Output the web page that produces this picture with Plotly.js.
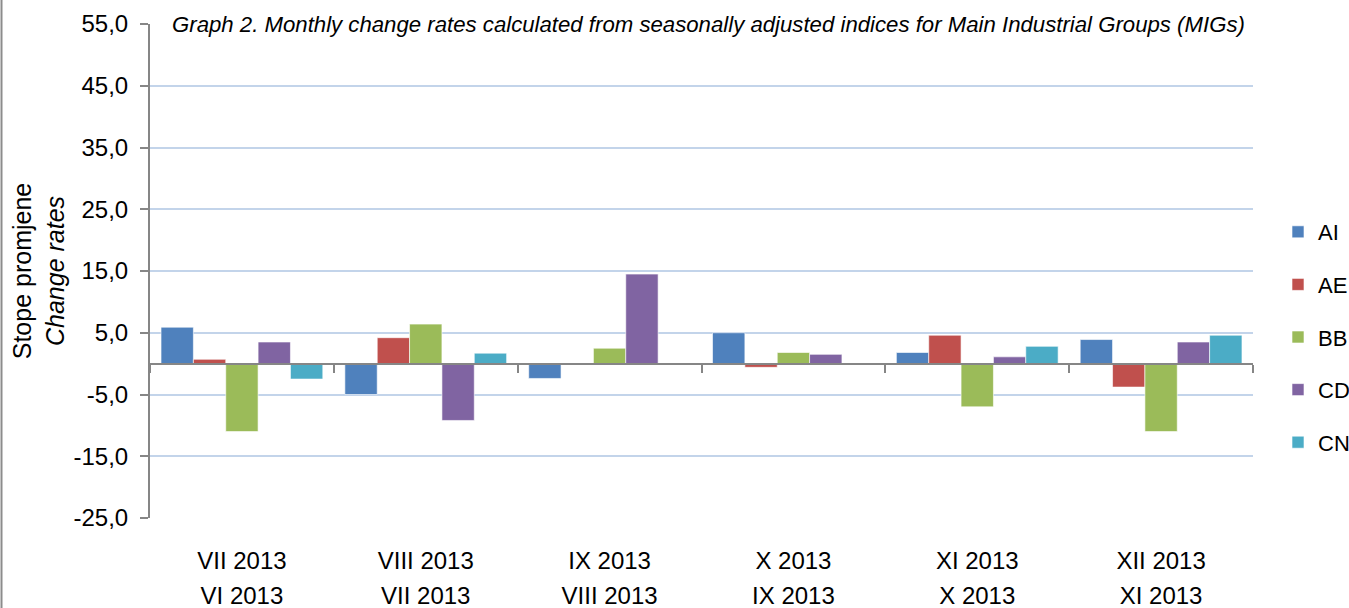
<!DOCTYPE html>
<html>
<head>
<meta charset="utf-8">
<script src="https://cdn.plot.ly/plotly-3.0.1.min.js"></script>
<style>html,body{margin:0;padding:0;background:#fff;}#chart{width:1349px;height:608px;}</style>
</head>
<body>
<div id="chart"></div>
<script>
const periodCurrent = ['VII 2013', 'VIII 2013', 'IX 2013', 'X 2013', 'XI 2013', 'XII 2013'];
const periodPrevious = ['VI 2013', 'VII 2013', 'VIII 2013', 'IX 2013', 'X 2013', 'XI 2013'];
const categories = periodCurrent.map((c, i) => c + ' / ' + periodPrevious[i]);
const seriesNames = ['AI', 'AE', 'BB', 'CD', 'CN'];
const AI = [5.9, -5.0, -2.4, 5.0, 1.8, 3.9];
const AE = [0.7, 4.2, -0.2, -0.6, 4.6, -3.8];
const BB = [-11.0, 6.4, 2.5, 1.8, -7.0, -11.0];
const CD = [3.5, -9.2, 14.5, 1.5, 1.1, 3.5];
const CN = [-2.5, 1.7, -0.2, -0.2, 2.8, 4.6];
const seriesValues = [AI, AE, BB, CD, CN];
const colors = ['#4F81BD', '#C0504D', '#9BBB59', '#8064A2', '#4BACC6'];
const yTicks = [55, 45, 35, 25, 15, 5, -5, -15, -25];
const yTickLabels = ['55,0', '45,0', '35,0', '25,0', '15,0', '5,0', '-5,0', '-15,0', '-25,0'];

const FONT = 'Liberation Sans, Arial, sans-serif';

const traces = seriesNames.map((n, i) => ({
  type: 'bar', name: n, x: categories, y: seriesValues[i],
  legendgroup: n,
  marker: {color: colors[i], line: {color: 'rgba(255,255,255,0.6)', width: 1}},
  hoverinfo: 'x+y+name'
}));
// helper traces for the overlay category axes (zero-line axis and second label row)
traces.push({type: 'scatter', x: categories, y: AI, xaxis: 'x2', yaxis: 'y',
  mode: 'markers', marker: {opacity: 0}, showlegend: false, hoverinfo: 'skip'});
traces.push({type: 'scatter', x: categories, y: AI, xaxis: 'x3', yaxis: 'y',
  mode: 'markers', marker: {opacity: 0}, showlegend: false, hoverinfo: 'skip'});

const layout = {
  width: 1349, height: 608,
  margin: {l: 150, r: 96, t: 24, b: 90},
  paper_bgcolor: '#fff', plot_bgcolor: '#fff',
  font: {family: FONT, size: 24, color: '#000'},
  barmode: 'group', bargap: 0.12, bargroupgap: 0,
  showlegend: true,
  legend: {
    x: 1278/1349, xref: 'container', xanchor: 'left',
    y: 1 - 211/608, yref: 'container', yanchor: 'top',
    traceorder: 'grouped', tracegroupgap: 21,
    font: {family: FONT, size: 22, color: '#000'},
    bgcolor: 'rgba(0,0,0,0)'
  },
  xaxis: {
    type: 'category', range: [-0.5, 5.5],
    tickvals: categories, ticktext: periodCurrent, ticklabelstandoff: 26,
    showline: false, showgrid: false, zeroline: false, ticks: '',
    tickfont: {family: FONT, size: 24, color: '#000'}
  },
  xaxis3: {
    type: 'category', range: [-0.5, 5.5], overlaying: 'x', anchor: 'free', position: 0,
    tickvals: categories, ticktext: periodPrevious, ticklabelstandoff: 61,
    showline: false, showgrid: false, zeroline: false, ticks: '',
    tickfont: {family: FONT, size: 24, color: '#000'}
  },
  xaxis2: {
    type: 'category', range: [-0.5, 5.5], overlaying: 'x', anchor: 'free', position: 25/80,
    side: 'bottom', showline: true, linecolor: '#868686', linewidth: 2,
    showgrid: false, zeroline: false, showticklabels: false,
    ticks: 'outside', tickson: 'boundaries', ticklen: 8, tickwidth: 2, tickcolor: '#868686'
  },
  yaxis: {
    range: [-25, 55], tickvals: yTicks, ticktext: yTickLabels, ticklabelstandoff: 7,
    showline: true, linecolor: '#868686', linewidth: 2,
    ticks: 'outside', ticklen: 8, tickwidth: 2, tickcolor: '#868686',
    showgrid: true, gridcolor: '#C3D4EA', gridwidth: 2,
    zeroline: false,
    tickfont: {family: FONT, size: 24, color: '#000'},
    title: {text: 'Stope promjene<br><i>Change rates</i>', font: {family: FONT, size: 25, color: '#000'}, standoff: 2}
  },
  annotations: [
    {text: '<i>Graph 2. Monthly change rates calculated from seasonally adjusted indices for Main Industrial Groups (MIGs)</i>',
     xref: 'paper', yref: 'paper', x: (708-150)/1103, y: 1, xanchor: 'center', yanchor: 'middle',
     showarrow: false, font: {family: FONT, size: 22.2, color: '#000'}},
    {text: '<b>(GIG)</b>', xref: 'paper', yref: 'paper', x: (708-150)/1103, y: (518-2)/494,
     xanchor: 'center', yanchor: 'bottom', showarrow: false, font: {family: FONT, size: 24, color: '#000'}}
  ],
  shapes: [
    {type: 'line', xref: 'paper', yref: 'paper', x0: (1.5-150)/1103, x1: (1.5-150)/1103,
     y0: (518-0)/494, y1: (518-608)/494, line: {color: '#8C8C8C', width: 2}}
  ]
};

Plotly.newPlot('chart', traces, layout, {displayModeBar: false, staticPlot: true});
</script>
</body>
</html>
